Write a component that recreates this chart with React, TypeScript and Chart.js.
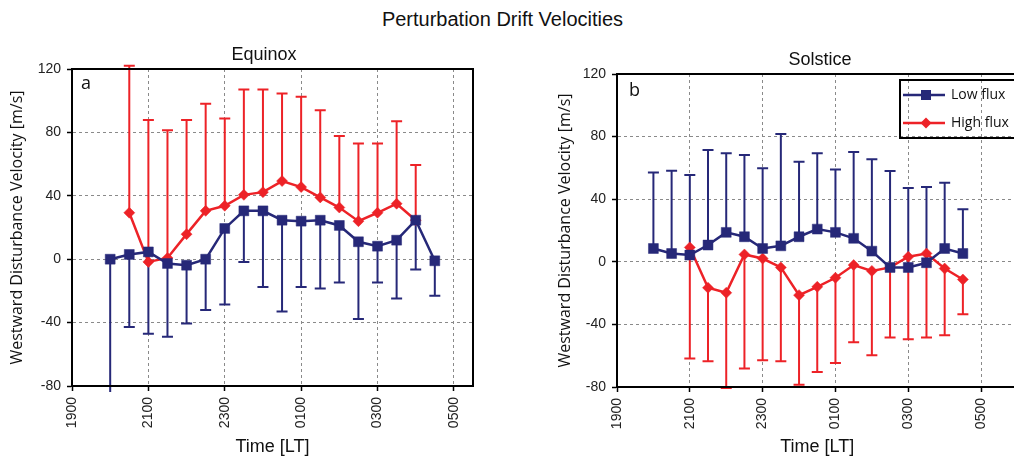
import React, { useEffect, useRef } from "react";
import { Chart, registerables } from "chart.js";

Chart.register(...registerables);

// ---------- data ----------
const timeTicks = [0, 2, 4, 6, 8, 10]; // hours after 19:00
const timeTickLabels = ["1900", "2100", "2300", "0100", "0300", "0500"];
const yTicks = [-80, -40, 0, 40, 80, 120];

const seriesNames = ["Low flux", "High flux"];

// Equinox
const eqTimesLow = [1, 1.5, 2, 2.5, 3, 3.5, 4, 4.5, 5, 5.5, 6, 6.5, 7, 7.5, 8, 8.5, 9, 9.5];
const eqLow = [0, 3, 4.6, -2.7, -3.8, 0, 19.4, 30.5, 30.5, 24.6, 24, 24.6, 21.3, 11, 8.2, 12, 24.6, -1];
const eqLowErrEnd = [-100, -42.7, -47, -49, -40.6, -32, -28.6, -1.7, -17.5, -33, -17.5, -18.5, -14.7, -37.7, -14.7, -24.8, -6.5, -23];
const eqTimesHigh = [1.5, 2, 2.5, 3, 3.5, 4, 4.5, 5, 5.5, 6, 6.5, 7, 7.5, 8, 8.5, 9];
const eqHigh = [29.3, -1.7, 0.8, 15.8, 30.5, 33.7, 40.6, 42.3, 49.3, 45.5, 39, 32.6, 24, 29.3, 35, 24.6];
const eqHighErrEnd = [122, 87.8, 81.3, 87.8, 98, 88.8, 107, 107, 104.6, 102.5, 94, 77.7, 73, 73, 87, 59.4];

// Solstice
const solTimesLow = [1, 1.5, 2, 2.5, 3, 3.5, 4, 4.5, 5, 5.5, 6, 6.5, 7, 7.5, 8, 8.5, 9, 9.5];
const solLow = [8.5, 5.3, 4.3, 10.7, 18.8, 16, 8.5, 10.2, 16, 20.9, 18.8, 15, 6.8, -3.6, -3.6, -0.6, 8.5, 5.3];
const solLowErrEnd = [57.1, 58.2, 55.4, 71.4, 69.3, 68.2, 59.7, 81.7, 64, 69.3, 59, 70.1, 65.5, 58, 47.1, 47.8, 50.5, 33.5];
const solTimesHigh = [2, 2.5, 3, 3.5, 4, 4.5, 5, 5.5, 6, 6.5, 7, 7.5, 8, 8.5, 9, 9.5];
const solHigh = [9.2, -16.6, -19.8, 4.7, 2.1, -3.6, -21.3, -16, -10.2, -2.1, -5.8, -3.6, 3.2, 5.3, -4.3, -11.3];
const solHighErrEnd = [-61.8, -63.5, -80.6, -68.2, -62.9, -63.5, -78.5, -70.4, -64.6, -51.4, -59.7, -48.4, -49.5, -48.4, -46.9, -33.5];

// ---------- styles ----------
const BLUE = "#262878";
const RED = "#ED2227";
const ARIAL = "'Liberation Sans', Arial, sans-serif";
const MYRIAD = "'Open Sans', 'Noto Sans', sans-serif";

const toPoints = (xs: number[], ys: number[]) => xs.map((x, i) => ({ x, y: ys[i] }));

const errorBarPlugin = {
  id: "errorBars",
  beforeDatasetsDraw(chart: any) {
    const { ctx, chartArea } = chart;
    const yScale = chart.scales.y;
    ctx.save();
    ctx.beginPath();
    ctx.rect(chartArea.left - 10, chartArea.top - 6, chartArea.right - chartArea.left + 20, chartArea.bottom - chartArea.top + 12);
    ctx.clip();
    for (let i = chart.data.datasets.length - 1; i >= 0; i--) {
      const ds = chart.data.datasets[i];
      const meta = chart.getDatasetMeta(i);
      ctx.strokeStyle = ds.borderColor;
      ctx.lineWidth = 2;
      meta.data.forEach((pt: any, j: number) => {
        const yEnd = yScale.getPixelForValue(ds.errEnd[j]);
        ctx.beginPath();
        ctx.moveTo(pt.x, pt.y);
        ctx.lineTo(pt.x, yEnd);
        ctx.moveTo(pt.x - 5.5, yEnd);
        ctx.lineTo(pt.x + 5.5, yEnd);
        ctx.stroke();
      });
    }
    ctx.restore();
  },
};

const decorPlugin = {
  id: "decor",
  afterDraw(chart: any) {
    const { ctx, chartArea } = chart;
    const o = chart.options.plugins.decor;
    ctx.save();
    // frame
    ctx.strokeStyle = "#000";
    ctx.lineWidth = 2;
    ctx.strokeRect(chartArea.left, chartArea.top, chartArea.right - chartArea.left, chartArea.bottom - chartArea.top);
    // subtitle
    ctx.fillStyle = "#111";
    ctx.font = `18px ${ARIAL}`;
    ctx.textAlign = "center";
    ctx.textBaseline = "middle";
    ctx.fillText(o.subtitle, o.subX, o.subY);
    // panel letter
    ctx.font = `18px ${MYRIAD}`;
    ctx.textAlign = "left";
    ctx.textBaseline = "alphabetic";
    ctx.fillText(o.letter, o.letterX, o.letterY);
    // legend
    if (o.legend) {
      const L = o.legend;
      ctx.lineWidth = 2;
      ctx.strokeStyle = "#000";
      ctx.strokeRect(L.x, L.y, L.w, L.h);
      chart.data.datasets.forEach((ds: any, i: number) => {
        const yy = L.y + 15 + i * 28;
        ctx.strokeStyle = ds.borderColor;
        ctx.lineWidth = 2.5;
        ctx.beginPath();
        ctx.moveTo(L.x + 3, yy);
        ctx.lineTo(L.x + 45, yy);
        ctx.stroke();
        ctx.fillStyle = ds.borderColor;
        ctx.beginPath();
        const cx = L.x + 26;
        if (ds.pointStyle === "rect") {
          ctx.rect(cx - 5, yy - 5, 10, 10);
        } else {
          ctx.moveTo(cx, yy - 5.5);
          ctx.lineTo(cx + 5.5, yy);
          ctx.lineTo(cx, yy + 5.5);
          ctx.lineTo(cx - 5.5, yy);
          ctx.closePath();
        }
        ctx.fill();
        ctx.fillStyle = "#111";
        ctx.font = `14px ${MYRIAD}`;
        ctx.textAlign = "left";
        ctx.textBaseline = "middle";
        ctx.fillText(ds.label, L.x + 51, yy);
      });
    }
    ctx.restore();
  },
};

type PanelProps = {
  left: number;
  width: number;
  padLeft: number;
  yWidth: number;
  padRight: number;
  padTop: number;
  xHeight: number;
  xMax: number;
  lowX: number[];
  lowY: number[];
  lowErr: number[];
  highX: number[];
  highY: number[];
  highErr: number[];
  decor: any;
};

function Panel(p: PanelProps) {
  const ref = useRef<HTMLCanvasElement | null>(null);
  useEffect(() => {
    if (!ref.current) return;
    const chart = new Chart(ref.current, {
      type: "line",
      data: {
        datasets: [
          {
            label: seriesNames[0],
            data: toPoints(p.lowX, p.lowY),
            borderColor: BLUE,
            backgroundColor: BLUE,
            borderWidth: 2.5,
            pointStyle: "rect",
            pointRadius: 7,
            pointBorderWidth: 0.5,
            tension: 0,
            errEnd: p.lowErr,
          } as any,
          {
            label: seriesNames[1],
            data: toPoints(p.highX, p.highY),
            borderColor: RED,
            backgroundColor: RED,
            borderWidth: 2.5,
            pointStyle: "rectRot",
            pointRadius: 5.5,
            pointBorderWidth: 0.5,
            tension: 0,
            errEnd: p.highErr,
          } as any,
        ],
      },
      options: {
        animation: false,
        responsive: false,
        devicePixelRatio: 1,
        layout: { padding: { left: p.padLeft, right: p.padRight, top: p.padTop, bottom: 0 } },
        plugins: {
          legend: { display: false },
          tooltip: { enabled: false },
          title: { display: false },
          decor: p.decor,
        } as any,
        scales: {
          x: {
            type: "linear",
            min: 0,
            max: p.xMax,
            afterBuildTicks: (s: any) => {
              s.ticks = timeTicks.map((v) => ({ value: v }));
            },
            afterFit: (s: any) => {
              s.height = p.xHeight;
            },
            ticks: {
              autoSkip: false,
              minRotation: 90,
              maxRotation: 90,
              padding: 6,
              color: "#222",
              font: { family: ARIAL, size: 14 },
              callback: (v: any) => timeTickLabels[timeTicks.indexOf(Number(v))] ?? "",
            },
            grid: { color: "#8a8a8a", lineWidth: 1, tickColor: "#000", tickLength: 5, tickWidth: 1.5 },
            border: { display: true, color: "#000", width: 2, dash: [3, 3] },
            title: {
              display: true,
              text: "Time [LT]",
              color: "#111",
              font: { family: ARIAL, size: 18 },
              padding: { top: 4, bottom: 4 },
            },
          },
          y: {
            type: "linear",
            min: -80,
            max: 120,
            afterBuildTicks: (s: any) => {
              s.ticks = yTicks.map((v) => ({ value: v }));
            },
            afterFit: (s: any) => {
              s.width = p.yWidth;
            },
            ticks: {
              padding: 6,
              color: "#222",
              font: { family: ARIAL, size: 14 },
            },
            grid: { color: "#8a8a8a", lineWidth: 1, tickColor: "#000", tickLength: 5, tickWidth: 1.5 },
            border: { display: true, color: "#000", width: 2, dash: [3, 3] },
            title: {
              display: true,
              text: "Westward Disturbance Velocity [m/s]",
              color: "#111",
              font: { family: MYRIAD, size: 16 },
              padding: { top: 4, bottom: 4 },
            },
          },
        },
      },
      plugins: [errorBarPlugin, decorPlugin],
    });
    return () => chart.destroy();
  }, []);
  return (
    <canvas
      ref={ref}
      width={p.width}
      height={462}
      style={{ position: "absolute", left: p.left, top: 0, width: p.width, height: 462 }}
    />
  );
}

export default function App() {
  return (
    <div
      style={{
        position: "fixed",
        left: 0,
        top: 0,
        width: 1014,
        height: 462,
        overflow: "hidden",
        background: "#fff",
      }}
    >
      <div
        style={{
          position: "absolute",
          left: 0,
          top: 9,
          width: 1005,
          textAlign: "center",
          fontFamily: ARIAL,
          fontSize: 20,
          lineHeight: "20px",
          color: "#111",
        }}
      >
        Perturbation Drift Velocities
      </div>
      <Panel
        left={0}
        width={507}
        padLeft={4}
        yWidth={68}
        padRight={34}
        padTop={69}
        xHeight={76}
        xMax={10.5}
        lowX={eqTimesLow}
        lowY={eqLow}
        lowErr={eqLowErrEnd}
        highX={eqTimesHigh}
        highY={eqHigh}
        highErr={eqHighErrEnd}
        decor={{ subtitle: "Equinox", subX: 264, subY: 55, letter: "a", letterX: 81, letterY: 89 }}
      />
      <Panel
        left={507}
        width={518}
        padLeft={45}
        yWidth={65}
        padRight={0}
        padTop={74}
        xHeight={75}
        xMax={11}
        lowX={solTimesLow}
        lowY={solLow}
        lowErr={solLowErrEnd}
        highX={solTimesHigh}
        highY={solHigh}
        highErr={solHighErrEnd}
        decor={{
          subtitle: "Solstice",
          subX: 313,
          subY: 60,
          letter: "b",
          letterX: 122,
          letterY: 96,
          legend: { x: 393, y: 80, w: 134, h: 58 },
        }}
      />
    </div>
  );
}
